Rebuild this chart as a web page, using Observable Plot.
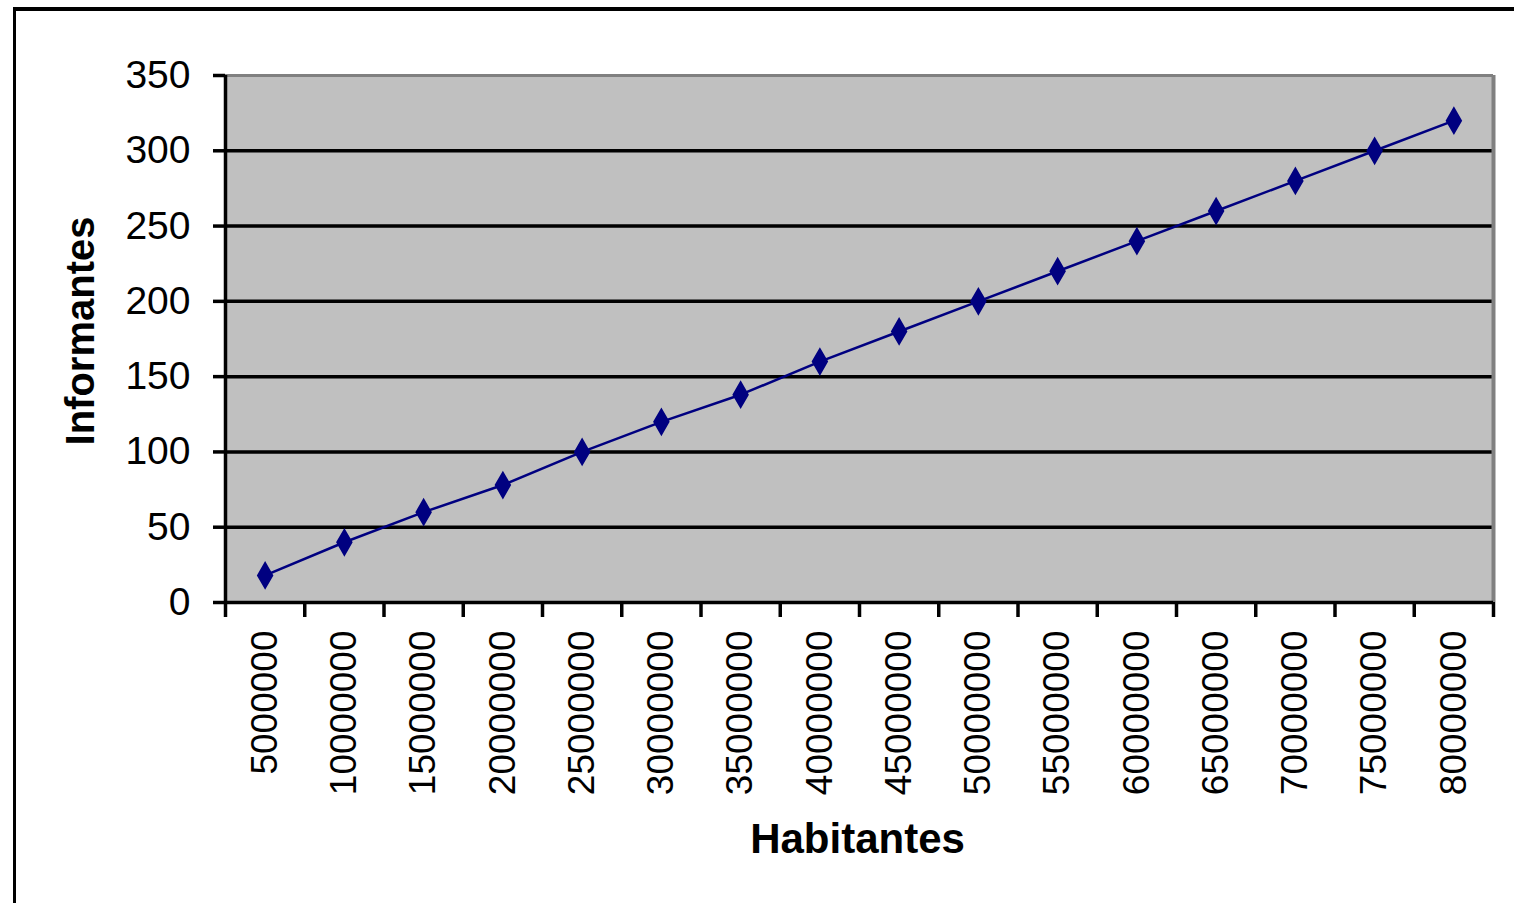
<!DOCTYPE html>
<html>
<head>
<meta charset="utf-8">
<script src="https://cdn.jsdelivr.net/npm/d3@7"></script>
<script src="https://cdn.jsdelivr.net/npm/@observablehq/plot@0.6"></script>
<style>
  html, body { margin: 0; padding: 0; background: #ffffff; overflow: hidden; }
  #wrap { position: relative; width: 1514px; height: 903px; }
  #border { position: absolute; left: 13px; top: 7px; width: 3000px; height: 3000px;
            border-left: 3px solid #000; border-top: 4px solid #000; box-sizing: border-box; }
  #chart { position: absolute; left: 0; top: 0; }
</style>
</head>
<body>
<div id="wrap"><div id="border"></div><div id="chart"></div></div>
<script>
// Data
const habitantes = [5000000, 10000000, 15000000, 20000000, 25000000, 30000000, 35000000, 40000000,
                    45000000, 50000000, 55000000, 60000000, 65000000, 70000000, 75000000, 80000000];
const informantes = [18, 40, 60, 78, 100, 120, 138, 160, 180, 200, 220, 240, 260, 280, 300, 320];
const yTicks = [0, 50, 100, 150, 200, 250, 300, 350];
const gridValues = [50, 100, 150, 200, 250, 300];
const xBoundaries = [2500000, 7500000, 12500000, 17500000, 22500000, 27500000, 32500000, 37500000,
                     42500000, 47500000, 52500000, 57500000, 62500000, 67500000, 72500000, 77500000, 82500000];
const xTitle = "Habitantes";
const yTitle = "Informantes";

const rows = habitantes.map((h, i) => ({habitantes: h, informantes: informantes[i]}));
const xMin = xBoundaries[0], xMax = xBoundaries[xBoundaries.length - 1];

const chart = Plot.plot({
  width: 1514,
  height: 903,
  marginLeft: 225,
  marginRight: 21,
  marginTop: 75,
  marginBottom: 301,
  x: {domain: [xMin, xMax]},
  y: {domain: [0, 350]},
  style: {fontFamily: "'Liberation Sans', Arial, sans-serif", color: "#000", background: "transparent"},
  marks: [
    Plot.frame({fill: "#c0c0c0", stroke: null}),
    Plot.ruleY(gridValues, {stroke: "#000", strokeWidth: 3.5}),
    Plot.ruleY([350], {stroke: "#808080", strokeWidth: 3}),
    Plot.ruleX([xMax], {stroke: "#808080", strokeWidth: 4}),
    Plot.ruleX([xMin], {stroke: "#000", strokeWidth: 3.5}),
    Plot.ruleY([0], {stroke: "#000", strokeWidth: 3.5}),
    Plot.axisY({ticks: yTicks, tickSize: 12, tickPadding: 23, fontSize: 39,
                tickFormat: d => String(d), label: null, strokeWidth: 3.5, stroke: "#000", fill: "#000"}),
    Plot.axisX({ticks: xBoundaries, tickSize: 15, tickFormat: () => "", label: null,
                strokeWidth: 3.5, stroke: "#000"}),
    Plot.axisX({ticks: habitantes, tickSize: 0, tickPadding: 28, tickRotate: -90, fontSize: 37,
                tickFormat: d => String(d), label: null, fill: "#000"}),
    Plot.line(rows, {x: "habitantes", y: "informantes", stroke: "#000080", strokeWidth: 2.5}),
    Plot.dot(rows, {x: "habitantes", y: "informantes", symbol: "diamond", r: 7.5, fill: "#000080", stroke: "#000080", strokeWidth: 2}),
    Plot.text([yTitle], {text: d => d, frameAnchor: "left", dx: -132, dy: -8, rotate: -90,
                         textAnchor: "middle", lineAnchor: "bottom", fontSize: 40, fontWeight: "bold", fill: "#000"}),
    Plot.text([xTitle], {text: d => d, frameAnchor: "bottom", dx: -2, dy: 250,
                         textAnchor: "middle", lineAnchor: "bottom", fontSize: 42, fontWeight: "bold", fill: "#000"})
  ]
});
document.getElementById("chart").appendChild(chart);
</script>
</body>
</html>
